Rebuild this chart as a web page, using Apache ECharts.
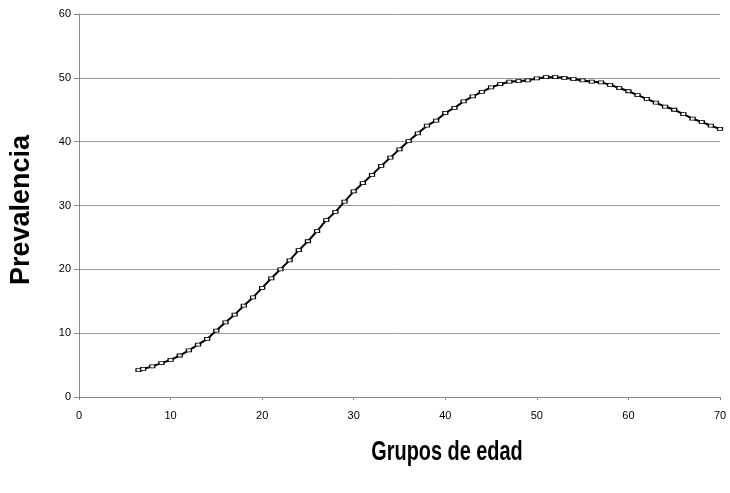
<!DOCTYPE html>
<html>
<head>
<meta charset="utf-8">
<script src="https://cdn.jsdelivr.net/npm/echarts@6/dist/echarts.min.js"></script>
<style>html,body{margin:0;padding:0;background:#fff}#c{width:730px;height:493px}</style>
</head>
<body>
<div id="c"></div>
<script>
const ages = [6.5,7,8,9,10,11,12,13,14,15,16,17,18,19,20,21,22,23,24,25,26,27,28,29,30,31,32,33,34,35,36,37,38,39,40,41,42,43,44,45,46,47,48,49,50,51,52,53,54,55,56,57,58,59,60,61,62,63,64,65,66,67,68,69,70];
const prevalence = [4.2,4.4,4.8,5.3,5.8,6.5,7.3,8.2,9.1,10.4,11.7,12.9,14.3,15.6,17.1,18.6,20.0,21.4,23.0,24.4,26.0,27.7,29.0,30.6,32.2,33.5,34.8,36.2,37.5,38.8,40.1,41.3,42.5,43.3,44.5,45.3,46.3,47.1,47.8,48.5,49.0,49.4,49.5,49.6,49.9,50.1,50.1,50.0,49.8,49.6,49.4,49.3,48.9,48.4,47.9,47.3,46.7,46.1,45.5,45.0,44.3,43.6,43.1,42.5,42.0];
const xTitle = 'Grupos de edad';
const yTitle = 'Prevalencia';

const chart = echarts.init(document.getElementById('c'));
const font = '"Liberation Sans Narrow", "Liberation Sans", Arial, sans-serif';
const bold = '"Liberation Sans", Arial, sans-serif';
chart.setOption({
  animation: false,
  grid: {left: 79, right: 10, top: 14, bottom: 96},
  xAxis: {
    type: 'value', min: 0, max: 70, interval: 10,
    axisLine: {lineStyle: {color: '#888', width: 1}},
    axisTick: {show: true, length: 3, lineStyle: {color: '#888'}},
    axisLabel: {color: '#000', fontFamily: font, fontSize: 11, margin: 13},
    splitLine: {show: false}
  },
  yAxis: {
    type: 'value', min: 0, max: 60, interval: 10,
    axisLine: {show: true, lineStyle: {color: '#888', width: 1}},
    axisTick: {show: true, length: 5, lineStyle: {color: '#888'}},
    axisLabel: {color: '#000', fontFamily: font, fontSize: 11, margin: 8},
    splitLine: {show: true, lineStyle: {color: '#999', width: 1}}
  },
  graphic: [
    {type: 'text', x: 447, y: 452, scaleX: 0.71, scaleY: 1,
     style: {text: xTitle, font: 'bold 28px ' + bold, fill: '#000', textAlign: 'center', textVerticalAlign: 'middle'}},
    {type: 'text', x: 22, y: 210, rotation: Math.PI / 2,
     style: {text: yTitle, font: 'bold 27px ' + bold, fill: '#000', textAlign: 'center', textVerticalAlign: 'middle'}}
  ],
  series: [{
    type: 'line',
    data: ages.map((a, i) => [a, prevalence[i]]),
    symbol: 'rect', symbolSize: [5, 3],
    itemStyle: {color: '#fff', borderColor: '#000', borderWidth: 1},
    lineStyle: {color: '#000', width: 2},
    showAllSymbol: true
  }]
});
</script>
</body>
</html>
